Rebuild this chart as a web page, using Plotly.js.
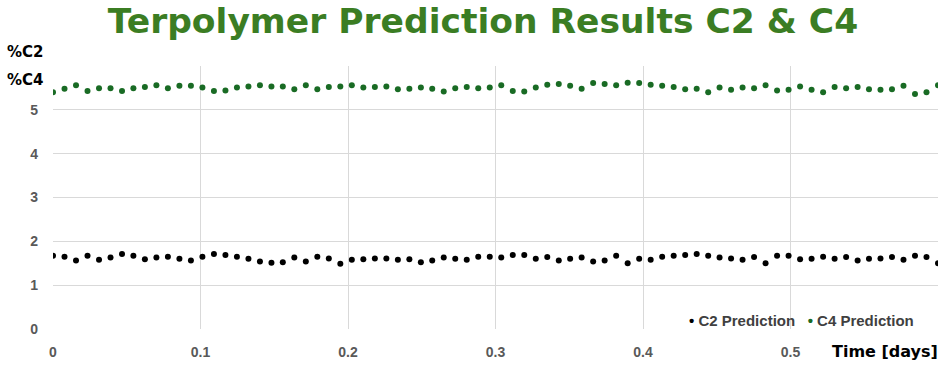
<!DOCTYPE html>
<html>
<head>
<meta charset="utf-8">
<script src="https://cdn.plot.ly/plotly-3.0.1.min.js"></script>
<style>html,body{margin:0;padding:0;background:#fff;}#chart{width:950px;height:367px;}</style>
</head>
<body>
<div id="chart"></div>
<script>
// Time in days (sampled regularly from 0 to 0.6)
var timeDays = [0,0.0078,0.0156,0.0234,0.0312,0.0390,0.0468,0.0545,0.0623,0.0701,
  0.0779,0.0857,0.0935,0.1013,0.1091,0.1169,0.1247,0.1325,0.1403,0.1481,
  0.1558,0.1636,0.1714,0.1792,0.1870,0.1948,0.2026,0.2104,0.2182,0.2260,
  0.2338,0.2416,0.2494,0.2571,0.2649,0.2727,0.2805,0.2883,0.2961,0.3039,
  0.3117,0.3195,0.3273,0.3351,0.3429,0.3506,0.3584,0.3662,0.3740,0.3818,
  0.3896,0.3974,0.4052,0.4130,0.4208,0.4286,0.4364,0.4442,0.4519,0.4597,
  0.4675,0.4753,0.4831,0.4909,0.4987,0.5065,0.5143,0.5221,0.5299,0.5377,
  0.5455,0.5532,0.5610,0.5688,0.5766,0.5844,0.5922,0.6000];

var c2Prediction = [1.67,1.65,1.56,1.67,1.58,1.63,1.71,1.67,1.59,1.63,
  1.65,1.60,1.56,1.65,1.71,1.69,1.65,1.60,1.54,1.51,
  1.52,1.63,1.54,1.65,1.61,1.49,1.58,1.59,1.61,1.61,
  1.58,1.59,1.52,1.56,1.63,1.60,1.58,1.65,1.65,1.63,
  1.69,1.69,1.60,1.64,1.56,1.60,1.63,1.54,1.56,1.67,
  1.50,1.60,1.58,1.65,1.67,1.69,1.71,1.67,1.63,1.61,
  1.58,1.64,1.50,1.67,1.67,1.59,1.60,1.65,1.60,1.64,
  1.56,1.60,1.61,1.64,1.58,1.67,1.64,1.50];

var c4Prediction = [5.40,5.48,5.56,5.43,5.49,5.49,5.43,5.49,5.52,5.56,
  5.49,5.55,5.55,5.51,5.43,5.44,5.51,5.53,5.56,5.53,
  5.53,5.47,5.56,5.47,5.52,5.53,5.56,5.51,5.52,5.53,
  5.47,5.48,5.51,5.48,5.42,5.49,5.52,5.49,5.51,5.56,
  5.43,5.42,5.51,5.57,5.59,5.55,5.48,5.61,5.59,5.56,
  5.62,5.61,5.57,5.55,5.52,5.47,5.48,5.40,5.51,5.46,
  5.51,5.49,5.56,5.44,5.46,5.53,5.46,5.40,5.52,5.49,
  5.52,5.47,5.46,5.47,5.55,5.36,5.40,5.56];

var seriesNames = ['C2 Prediction', 'C4 Prediction'];
var xTickVals = [0,0.1,0.2,0.3,0.4,0.5];
var xTickText = ['0','0.1','0.2','0.3','0.4','0.5'];
var yTickVals = [0,1,2,3,4,5,6];
var yTickText = ['0','1','2','3','4','5',''];

var colC2 = '#000000', colC4 = '#196B24';

var traces = [
  {x: timeDays, y: c2Prediction, name: seriesNames[0], mode: 'markers', type: 'scatter',
   marker: {color: colC2, size: 6}, showlegend: false},
  {x: timeDays, y: c4Prediction, name: seriesNames[1], mode: 'markers', type: 'scatter',
   marker: {color: colC4, size: 6}, showlegend: false}
];

var sans = 'Liberation Sans, Arial, sans-serif';
var wide = 'DejaVu Sans, Verdana, sans-serif';
var tickFont = {family: sans, size: 14, color: '#595959', weight: 'bold'};

var legendText = '<span style="color:' + colC2 + '">\u2022</span> ' + seriesNames[0] +
  '   <span style="color:' + colC4 + '">\u2022</span> ' + seriesNames[1];

var layout = {
  width: 950, height: 367,
  margin: {l: 53, r: 12, t: 66, b: 38, pad: 0},
  paper_bgcolor: '#ffffff', plot_bgcolor: '#ffffff',
  font: {family: sans},
  title: {text: '<b>Terpolymer Prediction Results C2 &amp; C4</b>',
    font: {family: wide, size: 34.5, color: '#3B7D23'},
    x: 483/950, xanchor: 'center', xref: 'container', y: 1 - 21/367, yref: 'container', yanchor: 'middle'},
  xaxis: {range: [0, 0.6], tickvals: xTickVals, ticktext: xTickText,
    showgrid: true, gridcolor: '#d9d9d9', gridwidth: 1, zeroline: false,
    showline: false, ticks: '', tickfont: tickFont, ticklabelstandoff: 13, fixedrange: true},
  yaxis: {range: [0, 6], tickvals: yTickVals, ticktext: yTickText,
    showgrid: true, gridcolor: '#d9d9d9', gridwidth: 1, zeroline: false,
    showline: false, ticks: '', tickfont: tickFont, ticklabelstandoff: 14, fixedrange: true},
  showlegend: false,
  annotations: [
    {text: '<b>%C2</b>', xref: 'paper', yref: 'paper', x: -28/885, y: 1.0 + 14/263, xanchor: 'center', yanchor: 'middle',
     showarrow: false, font: {family: wide, size: 15, color: '#000000'}},
    {text: '<b>%C4</b>', xref: 'paper', yref: 'paper', x: -28/885, y: 1.0 - 14/263, xanchor: 'center', yanchor: 'middle',
     showarrow: false, font: {family: wide, size: 15, color: '#000000'}},
    {text: '<b>Time [days]</b>', xref: 'paper', yref: 'paper', x: 1.002, y: -22/263, xanchor: 'right', yanchor: 'middle',
     showarrow: false, bgcolor: '#ffffff', font: {family: wide, size: 16, color: '#000000'}},
    {text: '<b>' + legendText + '</b>', xref: 'paper', yref: 'paper', x: (916-53)/885, y: 9/263, xanchor: 'right', yanchor: 'middle',
     showarrow: false, font: {family: sans, size: 15, color: '#404040'}}
  ]
};

Plotly.newPlot('chart', traces, layout, {displayModeBar: false, staticPlot: true});
</script>
</body>
</html>
